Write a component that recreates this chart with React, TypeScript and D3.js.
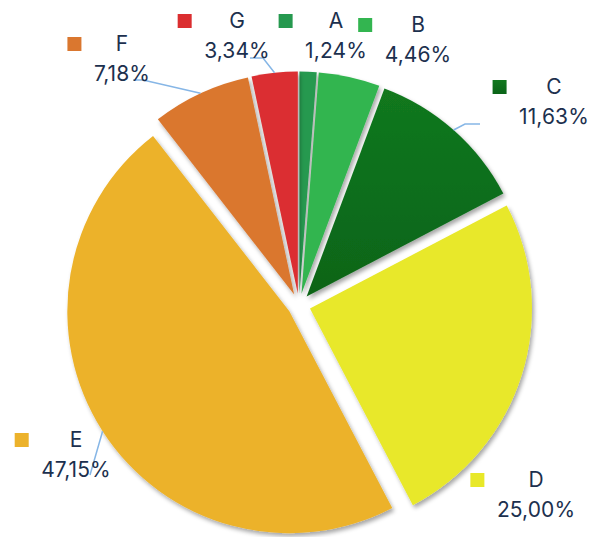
// Pie chart with exploded slices and callout labels
import React, { useRef, useEffect } from 'react';
import * as d3 from 'd3';

const categories = ['A', 'B', 'C', 'D', 'E', 'F', 'G'];
const shares = [1.24, 4.46, 11.63, 25.0, 47.15, 7.18, 3.34];

const COLORS = ['#26994f', '#33b550', '#0e6e1c', '#e8e829', '#ecb22b', '#da772f', '#db2e30'];

// label layout: [centre x, name baseline]
const LABEL_POS: [number, number][] = [
  [336, 28], [418, 32], [554, 94], [536, 487], [76, 447], [122, 51], [237, 28],
];
// leader lines: [start x, start y, elbow x] or null
const LEADERS: ([number, number, number] | null)[] = [
  null, null, [480, 124, 465], null, [90, 475, 90], [133, 80, 143], [250, 58, 263],
];

const W = 597;
const H = 537;
const CX = 299;
const CY = 305;
const R = 222;
const EXPLODE = 11.5;

export default function App() {
  const svgRef = useRef<SVGSVGElement | null>(null);

  useEffect(() => {
    if (!svgRef.current) return;
    const svg = d3.select(svgRef.current);
    svg.selectAll('*').remove();

    const defs = svg.append('defs');
    const shadow = defs.append('filter').attr('id', 'sh')
      .attr('x', '-20%').attr('y', '-20%').attr('width', '140%').attr('height', '140%');
    shadow.append('feDropShadow')
      .attr('dx', 2).attr('dy', 3).attr('stdDeviation', 2.2)
      .attr('flood-color', '#000').attr('flood-opacity', 0.35);

    const grad = defs.append('linearGradient').attr('id', 'gC')
      .attr('x1', 0).attr('y1', 0).attr('x2', 0).attr('y2', 1);
    grad.append('stop').attr('offset', '0%').attr('stop-color', '#12781f');
    grad.append('stop').attr('offset', '100%').attr('stop-color', '#0a6418');

    const data = categories.map((c, i) => ({ name: c, value: shares[i], color: i === 2 ? 'url(#gC)' : COLORS[i] }));

    const pie = d3.pie<any>().sort(null).value(d => d.value);
    const arcs = pie(data);
    const arc = d3.arc<any>().innerRadius(0).outerRadius(R);

    const offset = (a: any) => {
      const mid = (a.startAngle + a.endAngle) / 2;
      return [EXPLODE * Math.sin(mid), -EXPLODE * Math.cos(mid)];
    };

    const g = svg.append('g').attr('transform', `translate(${CX},${CY})`);

    g.selectAll('path.slice')
      .data(arcs)
      .join('path')
      .attr('class', 'slice')
      .attr('transform', d => { const [dx, dy] = offset(d); return `translate(${dx},${dy})`; })
      .attr('d', arc)
      .attr('fill', d => d.data.color)
      .attr('filter', 'url(#sh)');

    // leader lines
    arcs.forEach((a, i) => {
      const L = LEADERS[i];
      if (!L) return;
      const mid = (a.startAngle + a.endAngle) / 2;
      const [dx, dy] = offset(a);
      const px = CX + dx + R * Math.sin(mid);
      const py = CY + dy - R * Math.cos(mid);
      svg.append('polyline')
        .attr('points', `${L[0]},${L[1]} ${L[2]},${L[1]} ${px},${py}`)
        .attr('fill', 'none')
        .attr('stroke', '#86b6e6')
        .attr('stroke-width', 1.5);
    });

    const fmt = (v: number) => d3.format('.2f')(v).replace('.', ',') + '%';

    arcs.forEach((a, i) => {
      const [lx, ly] = LABEL_POS[i];
      const lg = svg.append('g');
      lg.append('text')
        .attr('x', lx).attr('y', ly)
        .attr('text-anchor', 'middle')
        .attr('fill', '#1c304e')
        .style('font-family', 'Inter, sans-serif')
        .style('font-size', '21px')
        .text(a.data.name);
      const vt = lg.append('text')
        .attr('x', lx).attr('y', ly + 30)
        .attr('text-anchor', 'middle')
        .attr('fill', '#1c304e')
        .style('font-family', 'Inter, sans-serif')
        .style('font-size', '21px')
        .style('letter-spacing', '0.1px')
        .text(fmt(a.data.value));
      const w = (vt.node() as SVGTextElement).getComputedTextLength();
      lg.append('rect')
        .attr('x', lx - w / 2 - 26.5)
        .attr('y', ly - 14)
        .attr('width', 14).attr('height', 14)
        .attr('fill', a.data.color);
    });
  }, []);

  return (
    <svg ref={svgRef} width={W} height={H}
      style={{ position: 'absolute', left: 0, top: 0, background: '#fff' }} />
  );
}
